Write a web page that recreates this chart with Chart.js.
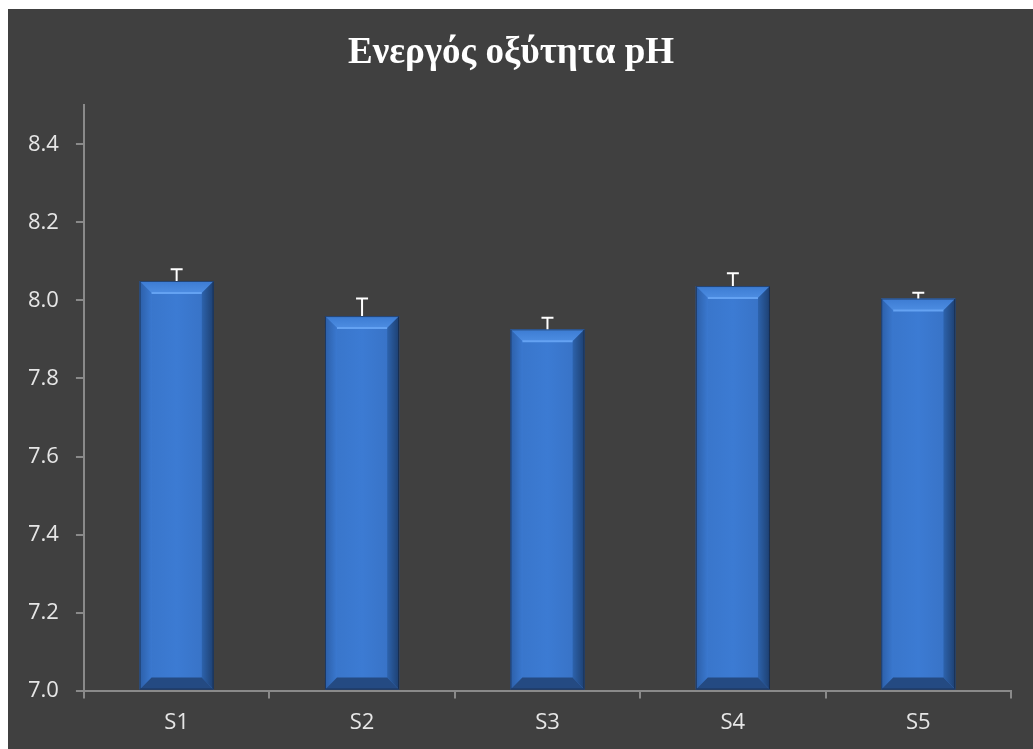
<!DOCTYPE html>
<html>
<head>
<meta charset="utf-8">
<script src="https://cdn.jsdelivr.net/npm/chart.js@4"></script>
<style>
  body { margin: 0; background: #ffffff; }
  #myChart { position: absolute; left: 8px; top: 9px; background: #404040; }
</style>
</head>
<body>
<canvas id="myChart" width="1025" height="740"></canvas>
<script>
  // setup
  const categories = ['S1', 'S2', 'S3', 'S4', 'S5'];
  const phValues = [8.05, 7.96, 7.926, 8.037, 8.005];
  const phErrors = [0.03, 0.045, 0.03, 0.033, 0.015];
  const yTicks = [7.0, 7.2, 7.4, 7.6, 7.8, 8.0, 8.2, 8.4];

  const data = {
    labels: categories,
    datasets: [
      {
        label: 'pH',
        data: phValues,
        base: 7.0,
        backgroundColor: '#3a78cf',
        borderWidth: 0,
        categoryPercentage: 0.8,
        barPercentage: 0.5,
      },
    ],
  };

  // bevel look on top of each bar, like the office chart
  const bevelBars = {
    id: 'bevelBars',
    afterDatasetsDraw(chart) {
      const { ctx, chartArea } = chart;
      const meta = chart.getDatasetMeta(0);
      ctx.save();
      meta.data.forEach((bar) => {
        const l = bar.x - bar.width / 2;
        const r = bar.x + bar.width / 2;
        const t = bar.y;
        const b = Math.min(bar.base, chartArea.bottom);
        const bv = 12;

        // inner face
        const g = ctx.createLinearGradient(l, 0, r, 0);
        g.addColorStop(0, '#3874c8');
        g.addColorStop(0.5, '#3c7bd3');
        g.addColorStop(1, '#3770c2');
        ctx.fillStyle = g;
        ctx.fillRect(l + bv, t + bv, r - l - 2 * bv, b - t - 2 * bv);

        const poly = (pts, color) => {
          ctx.beginPath();
          ctx.moveTo(pts[0][0], pts[0][1]);
          pts.slice(1).forEach((p) => ctx.lineTo(p[0], p[1]));
          ctx.closePath();
          ctx.fillStyle = color;
          ctx.fill();
        };
        // top
        const tg = ctx.createLinearGradient(0, t, 0, t + bv);
        tg.addColorStop(0, '#3c7bd2');
        tg.addColorStop(1, '#4d8de2');
        poly([[l, t], [r, t], [r - bv, t + bv], [l + bv, t + bv]], tg);
        // left
        const lg = ctx.createLinearGradient(l, 0, l + bv, 0);
        lg.addColorStop(0, '#2c5fa8');
        lg.addColorStop(1, '#3a78cf');
        poly([[l, t], [l + bv, t + bv], [l + bv, b - bv], [l, b]], lg);
        // right
        const rg = ctx.createLinearGradient(r - bv, 0, r, 0);
        rg.addColorStop(0, '#2d63ad');
        rg.addColorStop(1, '#1d3f70');
        poly([[r, t], [r, b], [r - bv, b - bv], [r - bv, t + bv]], rg);
        // bottom
        poly([[l, b], [l + bv, b - bv], [r - bv, b - bv], [r, b]], '#244a82');

        // light edge under the top bevel
        ctx.strokeStyle = '#64a2f2';
        ctx.lineWidth = 2;
        ctx.beginPath();
        ctx.moveTo(l + bv, t + bv);
        ctx.lineTo(r - bv, t + bv);
        ctx.stroke();

        // thin dark outline
        ctx.strokeStyle = 'rgba(20,30,50,0.6)';
        ctx.lineWidth = 1;
        ctx.strokeRect(l + 0.5, t + 0.5, r - l - 1, b - t - 1);
      });
      ctx.restore();
    },
  };

  // error bars (plus only)
  const errorBars = {
    id: 'errorBars',
    afterDatasetsDraw(chart) {
      const { ctx, scales: { y } } = chart;
      const meta = chart.getDatasetMeta(0);
      ctx.save();
      ctx.strokeStyle = '#ffffff';
      ctx.lineWidth = 2;
      meta.data.forEach((bar, i) => {
        const yTop = y.getPixelForValue(phValues[i] + phErrors[i]);
        ctx.beginPath();
        ctx.moveTo(bar.x, bar.y);
        ctx.lineTo(bar.x, yTop);
        ctx.moveTo(bar.x - 6, yTop);
        ctx.lineTo(bar.x + 6, yTop);
        ctx.stroke();
      });
      ctx.restore();
    },
  };

  // config
  const config = {
    type: 'bar',
    data,
    options: {
      responsive: false,
      animation: false,
      layout: {
        padding: { left: 3, right: 22, bottom: 2, top: 0 },
      },
      plugins: {
        legend: { display: false },
        tooltip: { enabled: false },
        title: {
          display: true,
          text: 'Ενεργός οξύτητα pH',
          color: '#ffffff',
          font: { family: 'Liberation Serif', size: 37, weight: 'bold' },
          padding: { top: 22, bottom: 30 },
        },
      },
      scales: {
        x: {
          grid: {
            drawOnChartArea: false,
            drawTicks: true,
            tickLength: 8,
            color: '#8a8a8a',
            lineWidth: 2,
          },
          border: { color: '#8a8a8a', width: 2 },
          ticks: {
            color: '#e6e6e6',
            padding: 11,
            font: { family: 'Open Sans', size: 22 },
          },
        },
        y: {
          min: 7.0,
          max: 8.5,
          afterBuildTicks(scale) {
            scale.ticks = yTicks.map((v) => ({ value: v }));
          },
          grid: {
            drawOnChartArea: false,
            drawTicks: true,
            tickLength: 8,
            color: '#8a8a8a',
            lineWidth: 2,
          },
          border: { color: '#8a8a8a', width: 2 },
          ticks: {
            color: '#e6e6e6',
            padding: 17,
            font: { family: 'Open Sans', size: 22 },
            callback: (v) => Number(v).toFixed(1),
          },
        },
      },
    },
    plugins: [bevelBars, errorBars],
  };

  // render init block
  const myChart = new Chart(document.getElementById('myChart'), config);
</script>
</body>
</html>
